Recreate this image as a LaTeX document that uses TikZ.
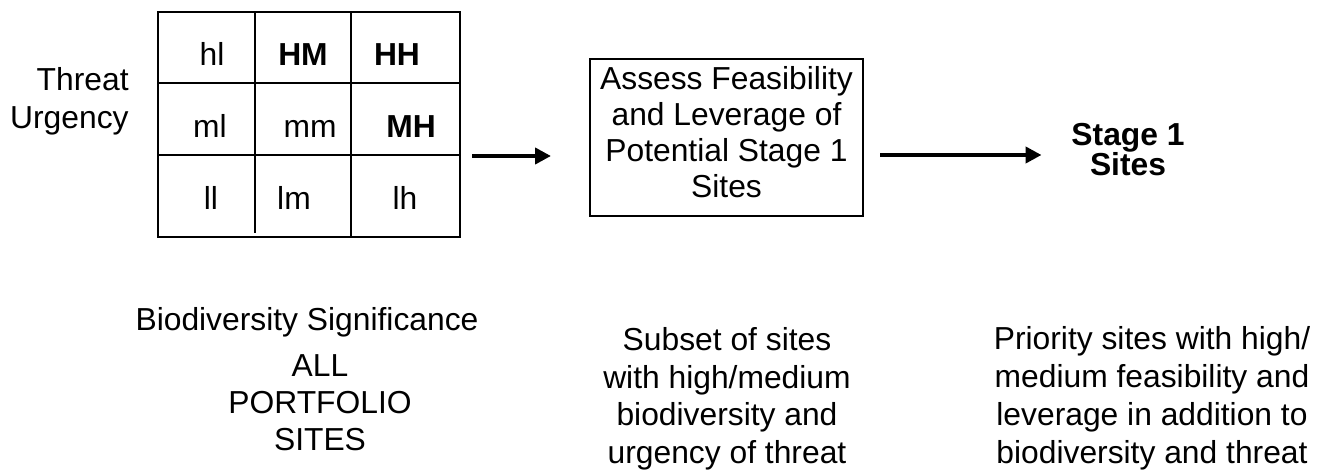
\documentclass[tikz,border=0pt]{standalone}
\usepackage{fontspec}
\setmainfont{Liberation Sans}
\usetikzlibrary{arrows.meta}

\begin{document}
\begin{tikzpicture}
        [x=0.5pt, y=-0.5pt, every node/.style={inner sep=0, font=\fontsize{15.9}{18}\selectfont}, flow/.style={-{Triangle[length=8pt,width=8pt]}, line width=2pt, black}, gridline/.style={line width=1pt, black}]

        \useasboundingbox (0,0) rectangle (1329,470);

        % threat / biodiversity grid
        \node[draw, gridline, minimum width=151pt, minimum height=112.5pt] (grid) at (309,124.5) {};
        \draw[gridline] (255,12) -- (255,233);
        \draw[gridline] (351,12) -- (351,237);
        \draw[gridline] (158,83) -- (460,83);
        \draw[gridline] (158,155.5) -- (460,155.5);

        \node[anchor=base] (hl) at (212,66) {hl};
        \node[anchor=base] (hm) at (303,66) {\textbf{HM}};
        \node[anchor=base] (hh) at (397,66) {\textbf{HH}};
        \node[anchor=base] (ml) at (210,137.5) {ml};
        \node[anchor=base] (mm) at (310,137.5) {mm};
        \node[anchor=base] (mh) at (411,137.5) {\textbf{MH}};
        \node[anchor=base] (ll) at (211,210) {ll};
        \node[anchor=base] (lm) at (294,210) {lm};
        \node[anchor=base] (lh) at (405,210) {lh};

        \node[align=right, anchor=east, font=\fontsize{15.9}{19}\selectfont] (urgency) at (129,101) {Threat\\Urgency};
        \node[anchor=base] (signif) at (307,331) {Biodiversity Significance};

        % process
        \node[draw, gridline, align=center, minimum width=136.5pt, minimum height=78.5pt] (box) at (726.5,137.5) {Assess Feasibility\\and Leverage of\\Potential Stage 1\\Sites\strut};
        \node[align=center, font=\bfseries\fontsize{15.9}{15}\selectfont] (stage) at (1128,150) {Stage 1\\Sites};

        \draw[flow, shorten <=5.5pt, shorten >=19pt] (grid.east |- 0,156) -- (box.west |- 0,156);
        \draw[flow, shorten <=8pt, shorten >=14.75pt] (box.east |- 0,155) -- (stage.west |- 0,155);

        % captions
        \node[align=center, font=\fontsize{15.9}{18.5}\selectfont] (all) at (320,402.6) {ALL\\PORTFOLIO\\SITES};
        \node[align=center, font=\fontsize{15.9}{18.75}\selectfont] (subset) at (727,398.7) {Subset of sites\\with high/medium\\biodiversity and\\urgency of threat};
        \node[align=center, font=\fontsize{15.9}{19}\selectfont] (priority) at (1152,398) {Priority sites with high/\\medium feasibility and\\leverage in addition to\\biodiversity and threat};
      \end{tikzpicture}
\end{document}
